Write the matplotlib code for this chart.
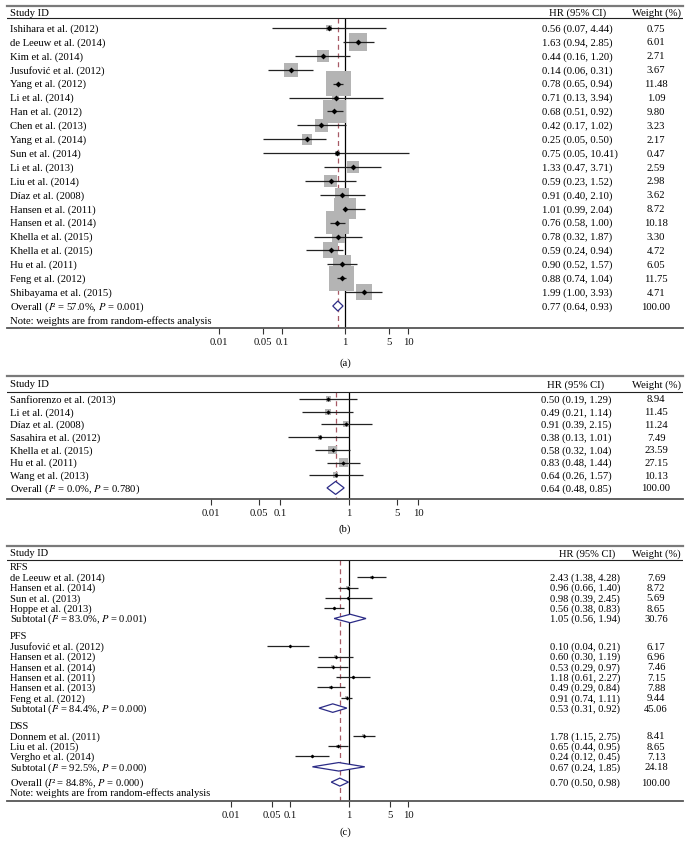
import matplotlib
matplotlib.use('Agg')
import matplotlib.pyplot as plt
import numpy as np
from matplotlib.ticker import NullLocator, FixedLocator, FixedFormatter

plt.rcParams['font.family'] = ['Liberation Serif', 'DejaVu Serif']
plt.rcParams['mathtext.fontset'] = 'stix'

# ---------------- data: panel (a) ----------------
a_studies = ["Ishihara et al. (2012)", "de Leeuw et al. (2014)", "Kim et al. (2014)",
             "Jusufović et al. (2012)", "Yang et al. (2012)", "Li et al. (2014)",
             "Han et al. (2012)", "Chen et al. (2013)", "Yang et al. (2014)",
             "Sun et al. (2014)", "Li et al. (2013)", "Liu et al. (2014)",
             "Díaz et al. (2008)", "Hansen et al. (2011)", "Hansen et al. (2014)",
             "Khella et al. (2015)", "Khella et al. (2015)", "Hu et al. (2011)",
             "Feng et al. (2012)", "Shibayama et al. (2015)"]
a_hr = [0.56, 1.63, 0.44, 0.14, 0.78, 0.71, 0.68, 0.42, 0.25, 0.75,
        1.33, 0.59, 0.91, 1.01, 0.76, 0.78, 0.59, 0.90, 0.88, 1.99]
a_lo = [0.07, 0.94, 0.16, 0.06, 0.65, 0.13, 0.51, 0.17, 0.05, 0.05,
        0.47, 0.23, 0.40, 0.99, 0.58, 0.32, 0.24, 0.52, 0.74, 1.00]
a_hi = [4.44, 2.85, 1.20, 0.31, 0.94, 3.94, 0.92, 1.02, 0.50, 10.41,
        3.71, 1.52, 2.10, 2.04, 1.00, 1.87, 0.94, 1.57, 1.04, 3.93]
a_w = [0.75, 6.01, 2.71, 3.67, 11.48, 1.09, 9.80, 3.23, 2.17, 0.47,
       2.59, 2.98, 3.62, 8.72, 10.18, 3.30, 4.72, 6.05, 11.75, 4.71]
a_overall = [0.77, 0.64, 0.93]
a_overall_w = 100.00
a_i2 = "57.0"
a_p = "0.001"

# ---------------- data: panel (b) ----------------
b_studies = ["Sanfiorenzo et al. (2013)", "Li et al. (2014)", "Díaz et al. (2008)",
             "Sasahira et al. (2012)", "Khella et al. (2015)", "Hu et al. (2011)",
             "Wang et al. (2013)"]
b_hr = [0.50, 0.49, 0.91, 0.38, 0.58, 0.83, 0.64]
b_lo = [0.19, 0.21, 0.39, 0.13, 0.32, 0.48, 0.26]
b_hi = [1.29, 1.14, 2.15, 1.01, 1.04, 1.44, 1.57]
b_w = [8.94, 11.45, 11.24, 7.49, 23.59, 27.15, 10.13]
b_overall = [0.64, 0.48, 0.85]
b_overall_w = 100.00
b_i2 = "0.0"
b_p = "0.780"

# ---------------- data: panel (c) ----------------
c_groups = ["RFS", "PFS", "DSS"]
c_group_of = ["RFS", "RFS", "RFS", "RFS",
              "PFS", "PFS", "PFS", "PFS", "PFS", "PFS",
              "DSS", "DSS", "DSS"]
c_studies = ["de Leeuw et al. (2014)", "Hansen et al. (2014)", "Sun et al. (2013)",
             "Hoppe et al. (2013)",
             "Jusufović et al. (2012)", "Hansen et al. (2012)", "Hansen et al. (2014)",
             "Hansen et al. (2011)", "Hansen et al. (2013)", "Feng et al. (2012)",
             "Donnem et al. (2011)", "Liu et al. (2015)", "Vergho et al. (2014)"]
c_hr = [2.43, 0.96, 0.98, 0.56, 0.10, 0.60, 0.53, 1.18, 0.49, 0.91, 1.78, 0.65, 0.24]
c_lo = [1.38, 0.66, 0.39, 0.38, 0.04, 0.30, 0.29, 0.61, 0.29, 0.74, 1.15, 0.44, 0.12]
c_hi = [4.28, 1.40, 2.45, 0.83, 0.21, 1.19, 0.97, 2.27, 0.84, 1.11, 2.75, 0.95, 0.45]
c_w = [7.69, 8.72, 5.69, 8.65, 6.17, 6.96, 7.46, 7.15, 7.88, 9.44, 8.41, 8.65, 7.13]
c_sub_hr = [1.05, 0.53, 0.67]
c_sub_lo = [0.56, 0.31, 0.24]
c_sub_hi = [1.94, 0.92, 1.85]
c_sub_w = [30.76, 45.06, 24.18]
c_sub_i2 = ["83.0", "84.4", "92.5"]
c_sub_p = ["0.001", "0.000", "0.000"]
c_overall = [0.70, 0.50, 0.98]
c_overall_w = 100.00
c_i2 = "84.8"
c_p = "0.000"

tick_vals = [0.01, 0.05, 0.1, 1, 5, 10]
tick_labels = ["0.01", "0.05", "0.1", "1", "5", "10"]

# ---------------- styling / layout ----------------
W, H = 690, 845
FS_A = 7.7
FS_C = 7.6
LEFT, RIGHT = 7, 683
BOX = '#b4b4b4'
CI = '#222222'
DIAM = '#2b2b86'
DASH = '#a85a66'

fig = plt.figure(figsize=(W / 100, H / 100), dpi=100)


def px_ax(px):
    return (px - LEFT) / (RIGHT - LEFT)


def make_axes(top, header, bottom, x1, k):
    ax = fig.add_axes([LEFT / W, 1 - bottom / H, (RIGHT - LEFT) / W, (bottom - top) / H])
    ax.set_xscale('log')
    ax.set_xlim(10 ** ((LEFT - x1) / k), 10 ** ((RIGHT - x1) / k))
    ax.set_ylim(bottom, top)
    for s in ['left', 'right', 'top']:
        ax.spines[s].set_visible(False)
    ax.spines['bottom'].set_color('#555555')
    ax.spines['bottom'].set_linewidth(1.3)
    ax.set_yticks([])
    ax.xaxis.set_major_locator(FixedLocator(tick_vals))
    ax.xaxis.set_major_formatter(FixedFormatter(tick_labels))
    ax.xaxis.set_minor_locator(NullLocator())
    ax.tick_params(axis='x', direction='out', length=4, width=0.8, colors='#333333',
                   labelsize=FS_A, pad=2.5, labelcolor='#111111')
    ax.axhline(top, color='#7a7a7a', lw=1.6, clip_on=False)
    ax.axhline(header, color='#222222', lw=0.8)
    ax.patch.set_alpha(0)
    return ax


def headers(ax, y, hr_center, fs):
    tr = ax.get_yaxis_transform()
    ax.text(px_ax(10), y, "Study ID", transform=tr, ha='left', va='center', fontsize=fs)
    ax.text(px_ax(hr_center), y, "HR (95% CI)", transform=tr, ha='center', va='center', fontsize=fs)
    ax.text(px_ax(656), y, "Weight (%)", transform=tr, ha='center', va='center', fontsize=fs)


def row_text(ax, y, label, est, lo, hi, w, hr_left, fs):
    tr = ax.get_yaxis_transform()
    ax.text(px_ax(10), y, label, transform=tr, ha='left', va='center', fontsize=fs)
    if est is not None:
        ax.text(px_ax(hr_left), y, f"{est:.2f} ({lo:.2f}, {hi:.2f})", transform=tr,
                ha='left', va='center', fontsize=fs)
        ax.text(px_ax(656), y, f"{w:.2f}", transform=tr, ha='center', va='center', fontsize=fs)


def studies(ax, ys, hr, lo, hi, w, box_k, pt_s):
    ax.scatter(hr, ys, s=np.array(w) * box_k, marker='s', color=BOX, linewidths=0, zorder=2)
    ax.hlines(ys, lo, hi, color=CI, lw=0.9, zorder=3)
    ax.scatter(hr, ys, s=pt_s, marker='D', color='black', linewidths=0, zorder=4)


def diamond(ax, y, est, lo, hi, h):
    ax.fill([lo, est, hi, est, lo], [y, y - h / 2, y, y + h / 2, y],
            facecolor='white', edgecolor=DIAM, lw=0.9, zorder=5)


def ref_lines(ax, header, bottom, overall):
    ax.vlines(1, header, bottom, color='black', lw=0.9, zorder=1)
    ax.vlines(overall, header, bottom, color=DASH, lw=0.9, linestyles=(0, (4, 3)), zorder=1)


def stat_label(prefix, i2, p):
    return f"{prefix} ($I$² = {i2}%, $P$ = {p})"


NOTE = "Note: weights are from random-effects analysis"

# ---------------- panel (a) ----------------
axa = make_axes(7, 19, 329, 345, 63)
headers(axa, 13, 578, FS_A)
ya = [29 + 13.9 * i for i in range(len(a_studies))]
ref_lines(axa, 19, 329, a_overall[0])
studies(axa, ya, a_hr, a_lo, a_hi, a_w, 27.6, 9)
for y, lab, e, l, h, w in zip(ya, a_studies, a_hr, a_lo, a_hi, a_w):
    row_text(axa, y, lab, e, l, h, w, 542, FS_A)
y_ov = 29 + 13.9 * len(a_studies)
diamond(axa, y_ov, *a_overall, 10)
row_text(axa, y_ov, stat_label("Overall", a_i2, a_p), *a_overall, a_overall_w, 542, FS_A)
row_text(axa, y_ov + 13.9, NOTE, None, None, None, None, 542, FS_A)
fig.text(345 / W, 1 - 363 / H, "(a)", ha='center', va='center', fontsize=FS_A)

# ---------------- panel (b) ----------------
axb = make_axes(377, 393, 500, 349, 69)
headers(axb, 385, 576, FS_A)
yb = [400 + 12.7 * i for i in range(len(b_studies))]
ref_lines(axb, 393, 500, b_overall[0])
studies(axb, yb, b_hr, b_lo, b_hi, b_w, 1.6, 5)
for y, lab, e, l, h, w in zip(yb, b_studies, b_hr, b_lo, b_hi, b_w):
    row_text(axb, y, lab, e, l, h, w, 541, FS_A)
y_ov = 400 + 12.7 * len(b_studies)
diamond(axb, y_ov, *b_overall, 13)
row_text(axb, y_ov, stat_label("Overall", b_i2, b_p), *b_overall, b_overall_w, 541, FS_A)
fig.text(345 / W, 1 - 529 / H, "(b)", ha='center', va='center', fontsize=FS_A)

# ---------------- panel (c) ----------------
axc = make_axes(547, 561, 802, 349, 59)
headers(axc, 554, 587, FS_C)
ref_lines(axc, 561, 802, c_overall[0])
step = 10.3
gap = 7.2
y = 568
for g, grp in enumerate(c_groups):
    row_text(axc, y, grp, None, None, None, None, 550, FS_C)
    y += step
    idx = [i for i, gg in enumerate(c_group_of) if gg == grp]
    ys = []
    for i in idx:
        ys.append(y)
        row_text(axc, y, c_studies[i], c_hr[i], c_lo[i], c_hi[i], c_w[i], 550, FS_C)
        y += step
    studies(axc, ys, [c_hr[i] for i in idx], [c_lo[i] for i in idx],
            [c_hi[i] for i in idx], [c_w[i] for i in idx], 0.6, 4)
    diamond(axc, y, c_sub_hr[g], c_sub_lo[g], c_sub_hi[g], 8.5)
    row_text(axc, y, stat_label("Subtotal", c_sub_i2[g], c_sub_p[g]),
             c_sub_hr[g], c_sub_lo[g], c_sub_hi[g], c_sub_w[g], 550, FS_C)
    y += step + (gap if g < len(c_groups) - 1 else 5)
diamond(axc, y, *c_overall, 8)
row_text(axc, y, stat_label("Overall", c_i2, c_p), *c_overall, c_overall_w, 550, FS_C)
row_text(axc, y + step, NOTE, None, None, None, None, 550, FS_C)
fig.text(345 / W, 1 - 832 / H, "(c)", ha='center', va='center', fontsize=FS_A)

fig.savefig("out.png", dpi=100, facecolor='white')
